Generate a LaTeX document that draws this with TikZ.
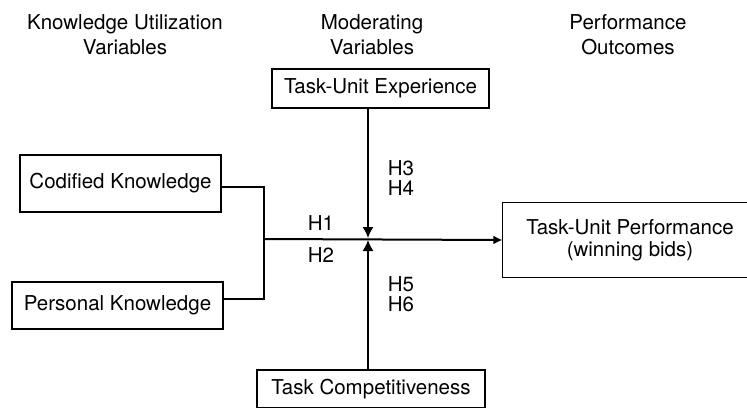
\documentclass[tikz,border=0pt]{standalone}
\usepackage{fontspec}
\setmainfont{TeX Gyre Heros}
\usetikzlibrary{arrows.meta,positioning}
\tikzset{>={Latex[length=9pt,width=9pt]}}
\tikzset{
  head/.style={align=center, anchor=north, inner sep=0pt, font=\fontsize{20.5}{25}\selectfont},
  var/.style={draw, line width=1.2pt, align=center, inner sep=0pt, font=\fontsize{20.5}{22}\selectfont},
  hyp/.style={inner sep=0pt, font=\fontsize{20.5}{22}\selectfont},
  link/.style={line width=1.2pt},
  mainlink/.style={line width=2pt, ->},
  modlink/.style={line width=1.4pt, -{Latex[length=11pt,width=11pt]}}
}

\begin{document}
\begin{tikzpicture}[x=1pt,y=-1pt]
    \useasboundingbox (0,0) rectangle (747,407);

    % column headings
    \node[head] (hknow) at (125,14) {Knowledge Utilization\\Variables};
    \node[head] (hmod) at (372,14) {Moderating\\Variables};
    \node[head] (hperf) at (628,14) {Performance\\Outcomes};

    % variable boxes
    \node[var, minimum width=217pt, minimum height=39pt] (exp) at (380.5,88.5) {Task-Unit Experience};
    \node[var, minimum width=201pt, minimum height=57pt] (cod) at (120.5,183.5) {Codified Knowledge};
    \node[var, minimum width=211pt, minimum height=47pt] (pers) at (117.5,305.5) {Personal Knowledge};
    \node[var, draw=none, minimum width=254pt, minimum height=74pt] (perf) at (630,240) {Task-Unit Performance\\(winning bids)};
    \node[var, minimum width=228pt, minimum height=38pt] (comp) at (371,389) {Task Competitiveness};
    % outcome box runs past the right edge
    \draw[link] (perf.north west) rectangle ([xshift=40pt]perf.south east);

    \coordinate (join) at (264,239);
    \coordinate (mid) at (368,239);

    % knowledge -> performance
    \draw[link] ([yshift=-3.5pt]cod.east) -| (join);
    \draw[link] ([yshift=6.5pt]pers.east) -| (join);
    \draw[mainlink] (join) -- (perf.west);

    % moderators
    \draw[modlink] (exp.south -| mid) -- ([yshift=1pt]mid);
    \draw[modlink] (comp.north -| mid) -- ([yshift=-1pt]mid);

    % hypotheses
    \node[hyp] (h1) at (321,223.5) {H1};
    \node[hyp] (h2) at (321,255) {H2};
    \node[hyp] (h3) at (401,168) {H3};
    \node[hyp] (h4) at (401,188.5) {H4};
    \node[hyp] (h5) at (401,284) {H5};
    \node[hyp] (h6) at (401,304.5) {H6};
\end{tikzpicture}
\end{document}
